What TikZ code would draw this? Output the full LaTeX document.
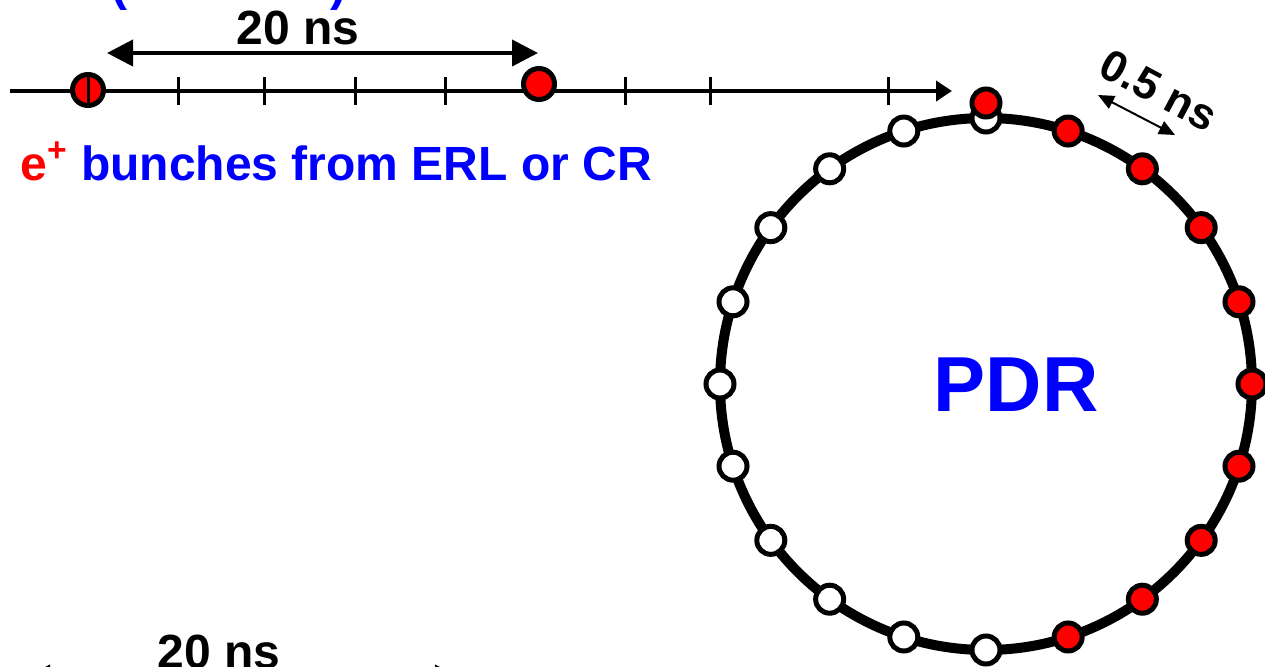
\documentclass[tikz,border=0pt]{standalone}
\usepackage{fontspec}
\setmainfont{Liberation Sans}
\usepackage{xcolor}
\usepackage{tikz}
\usetikzlibrary{calc,arrows.meta}
\definecolor{bunchred}{RGB}{255,0,0}
\definecolor{labelblue}{RGB}{0,0,255}

\tikzset{
  fullbunch/.style={circle,draw,fill=bunchred,line width=2.5pt,minimum size=14pt,inner sep=0pt},
  emptybunch/.style={circle,draw,fill=white,line width=2.5pt,minimum size=14pt,inner sep=0pt},
  linebunch/.style={fullbunch,minimum size=15.5pt},
  tickmark/.style={line width=1.5pt},
  bigtext/.style={font=\fontsize{24}{28}\selectfont\bfseries},
}

\begin{document}
\begin{tikzpicture}[x=0.5pt,y=0.5pt]
    \useasboundingbox (0,0) rectangle (1265,666);

    % blue brackets of the title above, cut off
    \node[bigtext,text=labelblue,anchor=base] (lparen) at (119,666) {(};
    \node[bigtext,text=labelblue,anchor=base] (rparen) at (338,666) {)};

    % bunch train coming in
    \coordinate (linestart) at (10,575);
    \coordinate (lineend) at (952,575);
    \draw[line width=2pt,-{Triangle[length=8pt,width=10pt]}] (linestart) -- (lineend);
    \node[linebunch] (bunchA) at (88,576) {};
    \node[linebunch] (bunchB) at (539,582) {};
    \foreach \x in {88,178,264,355,445,625,710,888}
        \draw[tickmark] (\x,561) -- (\x,589);

    % spacing of the train
    \coordinate (spaceL) at (107,613);
    \coordinate (spaceR) at (538,613);
    \draw[line width=2pt,{Triangle[length=13pt,width=13pt]}-{Triangle[length=13pt,width=13pt]}] (spaceL) -- (spaceR);
    \node[bigtext,anchor=base] (spacelabel) at (298,621) {20 ns};

    \node[bigtext,anchor=base west,inner sep=0pt] (trainlabel) at (20,486)
        {\textcolor{bunchred}{e\textsuperscript{+}} \textcolor{labelblue}{bunches from ERL or CR}};

    % damping ring
    \coordinate (ring) at (986,282);
    \draw[line width=5pt] (ring) circle [radius=266];
    \foreach \a in {90,108,...,270}
        \node[emptybunch] (empty\a) at ($(ring)+(\a:266)$) {};
    \foreach \a in {-72,-54,...,72}
        \node[fullbunch] (full\a) at ($(ring)+(\a:266)$) {};
    \node[fullbunch] (inject) at ($(ring)+(0,281)$) {};

    \node[font=\fontsize{39}{44}\selectfont\bfseries,text=labelblue] (pdr) at (1016,281) {PDR};

    % bunch spacing in the ring
    \coordinate (ringL) at (1098,571);
    \coordinate (ringR) at (1175,531);
    \draw[line width=1pt,{Triangle[length=8pt,width=7pt]}-{Triangle[length=8pt,width=7pt]}] (ringL) -- (ringR);
    \node[font=\fontsize{22}{26}\selectfont\bfseries,rotate=-28,inner sep=0pt] (ringlabel) at (1159,576) {0.5 ns};

    % second train below, cut off
    \coordinate (lowL) at (24,-12);
    \coordinate (lowR) at (461,-12);
    \draw[line width=2pt,{Triangle[length=13pt,width=13pt]}-{Triangle[length=13pt,width=13pt]}] (lowL) -- (lowR);
    \node[bigtext,anchor=base] (lowlabel) at (219,-2) {20 ns};
\end{tikzpicture}
\end{document}
